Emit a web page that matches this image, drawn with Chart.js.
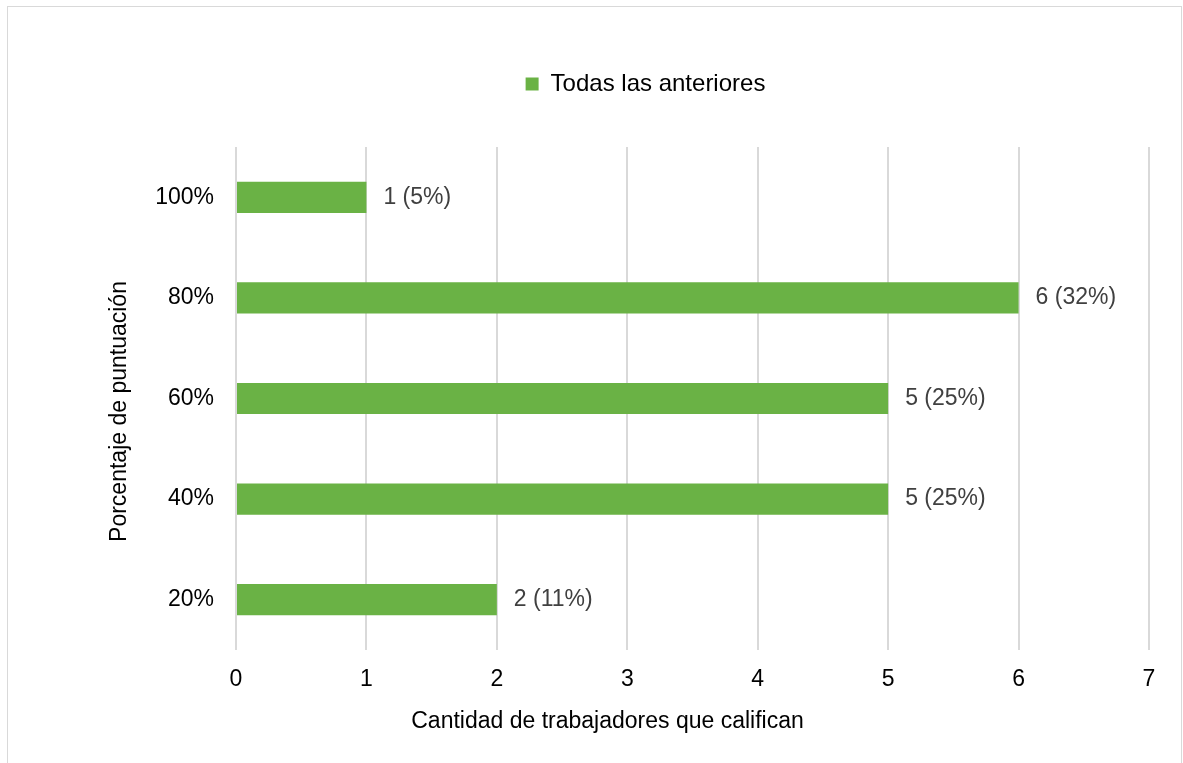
<!DOCTYPE html>
<html>
<head>
<meta charset="utf-8">
<script src="https://cdn.jsdelivr.net/npm/chart.js@4/dist/chart.umd.min.js"></script>
<style>
  html, body { margin: 0; padding: 0; background: #fff; }
  canvas { display: block; }
</style>
</head>
<body>
<canvas id="c" width="1183" height="763"></canvas>
<script>
const categories = ['100%', '80%', '60%', '40%', '20%'];
const values = [1, 6, 5, 5, 2];
const dataLabels = ['1 (5%)', '6 (32%)', '5 (25%)', '5 (25%)', '2 (11%)'];
const seriesName = 'Todas las anteriores';
const xTicks = [0, 1, 2, 3, 4, 5, 6, 7];

const FONT = "'Liberation Sans', Arial, sans-serif";
const FS = 23;

const framePlugin = {
  id: 'frame',
  beforeDraw(chart) {
    const ctx = chart.ctx;
    ctx.save();
    ctx.fillStyle = '#fff';
    ctx.fillRect(0, 0, chart.width, chart.height);
    ctx.strokeStyle = '#d9d9d9';
    ctx.lineWidth = 1;
    ctx.strokeRect(7.5, 6.5, 1174, 800);
    ctx.restore();
  }
};

function shiftDraw(obj, method, dx, dy) {
  const orig = obj[method].bind(obj);
  obj[method] = function () {
    const ctx = this.ctx;
    ctx.save();
    ctx.translate(dx, dy);
    orig.apply(null, arguments);
    ctx.restore();
  };
}

const layoutPatch = {
  id: 'layoutPatch',
  beforeLayout(chart) {
    const lg = chart.legend;
    if (lg && !lg._patched) {
      const origFit = lg.fit.bind(lg);
      lg.fit = function () { origFit(); this.height = 147; };
      shiftDraw(lg, 'draw', 71, 62);
      lg._patched = true;
    }
  },
  afterLayout(chart) {
    const sx = chart.scales.x, sy = chart.scales.y;
    if (sx && !sx._patched) { shiftDraw(sx, 'drawTitle', -85, 0); sx._patched = true; }
    if (sy && !sy._patched) { shiftDraw(sy, 'drawTitle', 0, 13); sy._patched = true; }
  }
};

const labelPlugin = {
  id: 'barLabels',
  afterDatasetsDraw(chart) {
    const ctx = chart.ctx;
    const meta = chart.getDatasetMeta(0);
    ctx.save();
    ctx.font = FS + 'px ' + FONT;
    ctx.fillStyle = '#404040';
    ctx.textAlign = 'left';
    ctx.textBaseline = 'middle';
    meta.data.forEach((bar, i) => {
      ctx.fillText(dataLabels[i], bar.x + 17, bar.y);
    });
    ctx.restore();
  }
};

new Chart(document.getElementById('c'), {
  type: 'bar',
  data: {
    labels: categories,
    datasets: [{
      label: seriesName,
      data: values,
      backgroundColor: '#6AB245',
      borderWidth: 0,
      categoryPercentage: 1,
      barPercentage: 0.31
    }]
  },
  options: {
    indexAxis: 'y',
    responsive: false,
    animation: false,
    devicePixelRatio: 1,
    layout: { padding: { left: 0, right: 34, top: 0, bottom: 0 } },
    plugins: {
      legend: {
        display: true,
        position: 'top',
        labels: {
          boxWidth: 13,
          boxHeight: 13,
          padding: 10,
          color: '#000',
          font: { family: FONT, size: 24 }
        }
      },
      tooltip: { enabled: false }
    },
    scales: {
      x: {
        type: 'linear',
        min: 0,
        max: 7,
        afterBuildTicks(scale) { scale.ticks = xTicks.map(v => ({ value: v })); },
        afterFit(scale) { scale.height = 113; },
        grid: { color: '#d9d9d9', lineWidth: 2, drawTicks: false },
        border: { display: false },
        ticks: { color: '#000', padding: 16, font: { family: FONT, size: FS } },
        title: {
          display: true,
          text: 'Cantidad de trabajadores que califican',
          color: '#000',
          font: { family: FONT, size: FS },
          padding: { top: 0, bottom: 28 }
        }
      },
      y: {
        afterFit(scale) { scale.width = 236; },
        grid: { display: false, drawTicks: false },
        border: { display: false },
        ticks: { color: '#000', padding: 22, font: { family: FONT, size: FS } },
        title: {
          display: true,
          text: 'Porcentaje de puntuación',
          color: '#000',
          font: { family: FONT, size: FS },
          padding: { top: 106, bottom: 0 }
        }
      }
    }
  },
  plugins: [framePlugin, layoutPatch, labelPlugin]
});
</script>
</body>
</html>
